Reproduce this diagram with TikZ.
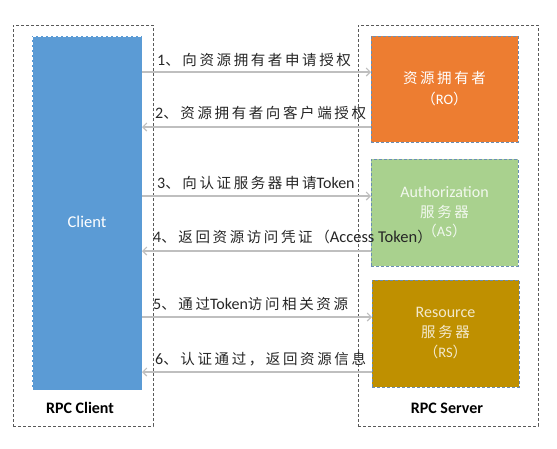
\documentclass[tikz,border=0pt]{standalone}
\usepackage{fontspec}
\setmainfont{Carlito}
\newfontfamily\cjkfam{Noto Sans CJK SC}[LetterSpace=18]
\usetikzlibrary{arrows.meta}
\newcommand\zhtxt[1]{{\cjkfam #1}}
\newcommand\lattxt[1]{{\fontsize{16}{16}\selectfont #1}}
\definecolor{cblue}{HTML}{5B9BD5}
\definecolor{corange}{HTML}{ED7D31}
\definecolor{cgreen}{HTML}{A9D18E}
\definecolor{cgold}{HTML}{BF9000}
\definecolor{arrowgray}{HTML}{BFBFBF}
\definecolor{labelgray}{HTML}{262626}
\definecolor{outergray}{HTML}{595959}
\definecolor{innerborder}{HTML}{6A8EB5}
\tikzset{
  outerbox/.style={draw=outergray, line width=0.9pt, dash pattern=on 3pt off 2pt, inner sep=0pt},
  innerbox/.style={draw=innerborder, line width=0.8pt, dash pattern=on 3pt off 2pt, inner sep=0pt, align=center, text=white, font=\fontsize{14.5}{21}\selectfont},
  msg/.style={draw=arrowgray, line width=1.1pt, -{Straight Barb[length=4pt,width=8pt]}},
  msglabel/.style={anchor=west, inner sep=0pt, text=labelgray, font=\fontsize{14.5}{16}\selectfont},
  caption/.style={inner sep=0pt, font=\fontsize{16}{18}\selectfont\bfseries, text=black},
}
\begin{document}
\begin{tikzpicture}[x=1pt,y=-1pt]
\useasboundingbox (0,0) rectangle (557,448);
% outer containers
\node[outerbox, minimum width=140pt, minimum height=401pt] (leftc) at (83,225.5) {};
\node[outerbox, minimum width=180pt, minimum height=401pt] (rightc) at (448,225.5) {};
% client
\node[draw=white, fill=cblue, line width=0.8pt, dash pattern=on 3pt off 2pt, inner sep=0pt, minimum width=110pt, minimum height=354pt] (client) at (87,213) {};
\node[inner sep=0pt, text=white, font=\fontsize{16.5}{18}\selectfont] (clienttxt) at (87,222) {Client};
% servers
\node[innerbox, fill=corange, minimum width=147pt, minimum height=106pt] (ro) at (444.5,89) {\zhtxt{资源拥有者}\\\zhtxt{（}RO\zhtxt{）}};
\node[innerbox, fill=cgreen, minimum width=147pt, minimum height=107pt, text=white!85!cgreen, font=\fontsize{14.5}{19.5}\selectfont] (as) at (444.5,212.5) {{\fontsize{16}{19.5}\selectfont Authorization}\\\zhtxt{服务器}\\\zhtxt{（}AS\zhtxt{）}};
\node[innerbox, fill=cgold, minimum width=147pt, minimum height=107pt, text=white!80!cgold, font=\fontsize{14.5}{20}\selectfont] (rs) at (445.5,333.5) {{\fontsize{16}{20}\selectfont Resource}\\\zhtxt{服务器}\\\zhtxt{（}RS\zhtxt{）}};
% captions
\node[caption] (cap1) at (80,408) {RPC Client};
\node[caption] (cap2) at (447,408) {RPC Server};
% arrow endpoints
\coordinate (c1) at (142,72);  \coordinate (s1) at (371,72);
\coordinate (c2) at (142,127); \coordinate (s2) at (371,127);
\coordinate (c3) at (142,196); \coordinate (s3) at (371,196);
\coordinate (c4) at (142,251); \coordinate (s4) at (371,251);
\coordinate (c5) at (142,317); \coordinate (s5) at (372,317);
\coordinate (c6) at (142,372); \coordinate (s6) at (372,372);
\draw[msg] (c1) -- (s1);
\draw[msg] (s2) -- (c2);
\draw[msg] (c3) -- (s3);
\draw[msg] (s4) -- (c4);
\draw[msg] (c5) -- (s5);
\draw[msg] (s6) -- (c6);
% labels
\node[msglabel] (l1) at (157,60) {\lattxt{1}\zhtxt{、向资源拥有者申请授权}};
\node[msglabel] (l2) at (155,113) {\lattxt{2}\zhtxt{、资源拥有者向客户端授权}};
\node[msglabel] (l3) at (157,183) {\lattxt{3}\zhtxt{、向认证服务器申请}\lattxt{Token}};
\node[msglabel] (l4) at (153,237) {\lattxt{4}\zhtxt{、返回资源访问凭证（}{\fontsize{16.5}{16}\selectfont Access Token}\zhtxt{）}};
\node[msglabel] (l5) at (153,304) {\lattxt{5}\zhtxt{、通过}\lattxt{Token}\zhtxt{访问相关资源}};
\node[msglabel] (l6) at (155,359) {\lattxt{6}\zhtxt{、认证通过，返回资源信息}};
\end{tikzpicture}
\end{document}
